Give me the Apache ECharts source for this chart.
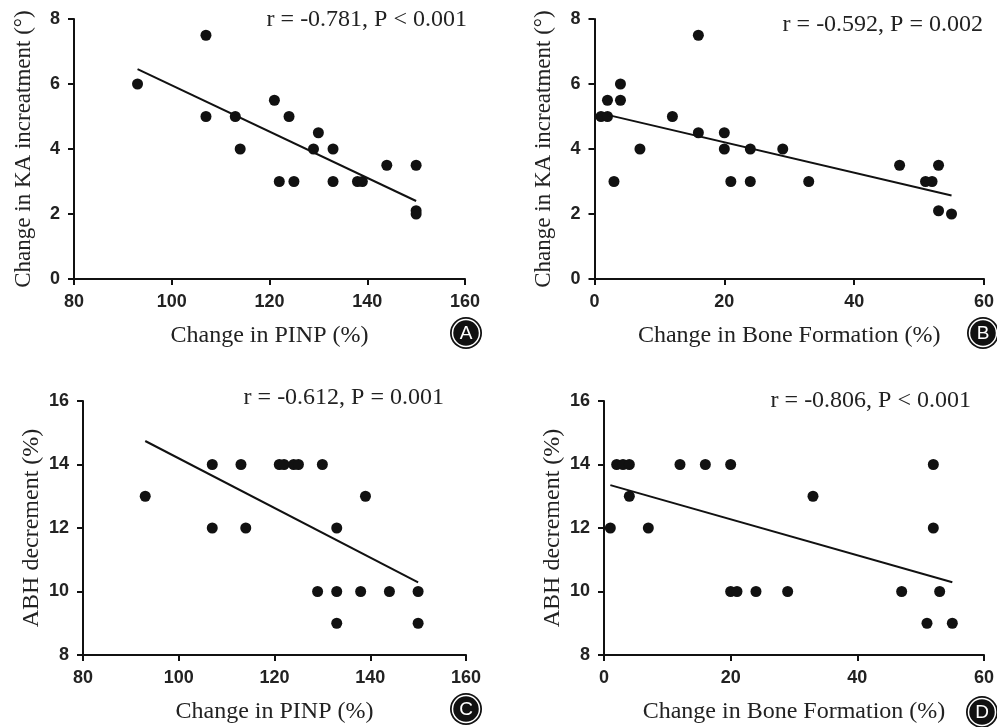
<!DOCTYPE html>
<html>
<head>
<meta charset="utf-8">
<script src="https://cdn.jsdelivr.net/npm/echarts@6/dist/echarts.min.js"></script>
<style>html,body{margin:0;padding:0;background:#fff}#c{width:997px;height:727px}</style>
</head>
<body>
<div id="c"></div>
<script>
// Panel A: PINP vs KA
const aX = [93,107,107,113,114,121,122,124,125,129,130,133,133,138,139,144,150,150,150];
const aY = [6,7.5,5,5,4,5.5,3,5,3,4,4.5,4,3,3,3,3.5,3.5,2.1,2.0];
const fitAX = [93,150];
const fitAY = [6.46,2.4];
// Panel B: Bone formation vs KA
const bX = [1,2,2,3,4,4,7,12,16,16,20,20,21,24,24,29,33,47,51,52,53,53,55];
const bY = [5,5,5.5,3,6,5.5,4,5,7.5,4.5,4.5,4,3,4,3,4,3,3.5,3,3,3.5,2.1,2.0];
const fitBX = [2,55];
const fitBY = [5.05,2.57];
// Panel C: PINP vs ABH
const cX = [93,107,107,113,114,121,122,124,125,129,130,133,133,133,138,139,144,150,150];
const cY = [13,14,12,14,12,14,14,14,14,10,14,12,10,9,10,13,10,10,9];
const fitCX = [93,150];
const fitCY = [14.74,10.29];
// Panel D: Bone formation vs ABH
const dX = [1,2,3,4,4,7,12,16,20,20,21,24,29,33,47,51,52,52,53,55];
const dY = [12,14,14,14,13,12,14,14,14,10,10,10,10,13,10,9,14,12,10,9];
const fitDX = [1,55];
const fitDY = [13.35,10.29];

const stats = ['r = -0.781, P < 0.001','r = -0.592, P = 0.002','r = -0.612, P = 0.001','r = -0.806, P < 0.001'];
const letters = ['A','B','C','D'];
const xNames = ['Change in PINP (%)','Change in Bone Formation (%)','Change in PINP (%)','Change in Bone Formation (%)'];
const yNames = ['Change in KA increatment (°)','Change in KA increatment (°)','ABH decrement (%)','ABH decrement (%)'];
const xRanges = [[80,160,20],[0,60,20],[80,160,20],[0,60,20]];
const yRanges = [[0,8,2],[0,8,2],[8,16,2],[8,16,2]];

const pairs = (xs, ys) => xs.map((x,i)=>[x, ys[i]]);
const scat = [pairs(aX,aY), pairs(bX,bY), pairs(cX,cY), pairs(dX,dY)];
const fits = [pairs(fitAX,fitAY), pairs(fitBX,fitBY), pairs(fitCX,fitCY), pairs(fitDX,fitDY)];

const grids = [
  {left:74, top:19, width:391, height:260},
  {left:594.5, top:19, width:389.5, height:260},
  {left:83, top:401, width:383, height:254},
  {left:604, top:401, width:382, height:254}
];
const yNameSizes = [23,23,24,24];
const yNameGaps = [39,39,39,39];
const ink = '#111';
const serif = '"Liberation Serif", "Times New Roman", serif';
const sans = '"Liberation Sans", Arial, sans-serif';

const xAxis = [], yAxis = [], series = [];
for (let i=0;i<4;i++){
  const axisCommon = {
    axisLine:{show:true, onZero:false, lineStyle:{color:ink, width:2}},
    axisTick:{show:true, length:6, lineStyle:{color:ink, width:2}},
    splitLine:{show:false},
    axisLabel:{color:'#222', fontFamily:sans, fontWeight:'bold', fontSize:18, margin:14},
    nameLocation:'middle'
  };
  xAxis.push(Object.assign({}, axisCommon, {
    type:'value', gridIndex:i, min:xRanges[i][0], max:xRanges[i][1], interval:xRanges[i][2],
    name:xNames[i], nameGap:45,
    nameTextStyle:{color:'#222', fontFamily:serif, fontSize:24}
  }));
  yAxis.push(Object.assign({}, axisCommon, {
    type:'value', gridIndex:i, min:yRanges[i][0], max:yRanges[i][1], interval:yRanges[i][2],
    name:yNames[i], nameGap:yNameGaps[i],
    nameTextStyle:{color:'#222', fontFamily:serif, fontSize:yNameSizes[i]}
  }));
  series.push({
    type:'scatter', xAxisIndex:i, yAxisIndex:i, data:scat[i],
    symbol:'circle', symbolSize:11, itemStyle:{color:ink, opacity:1}, silent:true
  });
  series.push({
    type:'line', xAxisIndex:i, yAxisIndex:i, data:fits[i],
    symbol:'none', lineStyle:{color:ink, width:2}, silent:true
  });
}

const statPos = [[467,20],[983,25],[444,398],[971,401]];
const letterPos = [[466,333],[983,333],[466,709],[982,712]];
const graphic = [];
for (let i=0;i<4;i++){
  graphic.push({type:'text', x:statPos[i][0], y:statPos[i][1],
    style:{text:stats[i], fill:'#222', font:'24px ' + serif, textAlign:'right', textVerticalAlign:'middle'}});
  graphic.push({type:'circle', x:letterPos[i][0], y:letterPos[i][1], shape:{cx:0, cy:0, r:16}, style:{fill:'#111'}});
  graphic.push({type:'circle', x:letterPos[i][0], y:letterPos[i][1], shape:{cx:0, cy:0, r:13.5}, style:{fill:'none', stroke:'#fff', lineWidth:1.5}});
  graphic.push({type:'text', x:letterPos[i][0], y:letterPos[i][1]+1,
    style:{text:letters[i], fill:'#fff', font:'19px ' + sans, textAlign:'center', textVerticalAlign:'middle'}});
}

const chart = echarts.init(document.getElementById('c'), null, {renderer:'canvas'});
chart.setOption({
  animation:false,
  backgroundColor:'#fff',
  grid:grids, xAxis:xAxis, yAxis:yAxis, series:series, graphic:graphic
});
</script>
</body>
</html>
